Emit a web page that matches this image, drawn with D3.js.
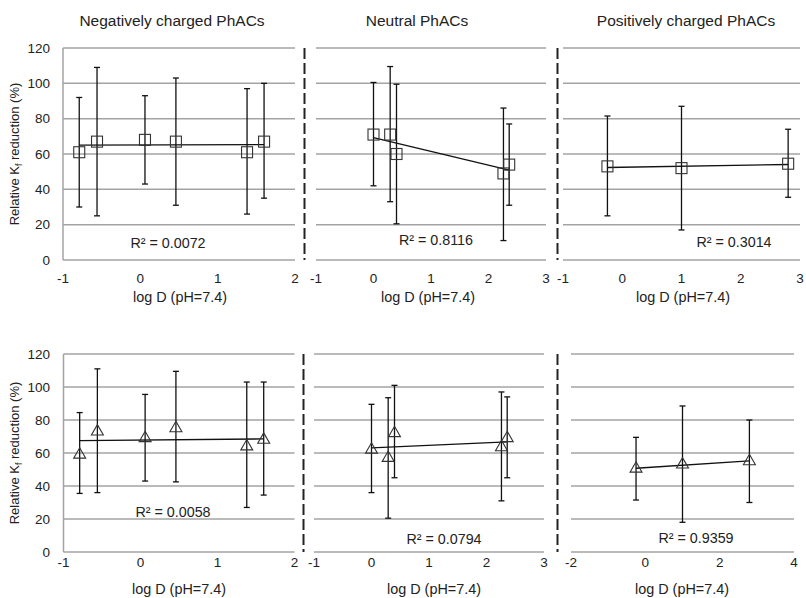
<!DOCTYPE html>
<html>
<head>
<meta charset="utf-8">
<script src="https://cdn.jsdelivr.net/npm/d3@7"></script>
<style>
  html, body { margin: 0; padding: 0; background: #fff; }
  svg { display: block; font-family: "Liberation Sans", Arial, sans-serif; }
</style>
</head>
<body>
<svg id="chart" width="806" height="598"></svg>
<script>
// ---- data ----
const panelTitles = ["Negatively charged PhACs", "Neutral PhACs", "Positively charged PhACs"];
const yTicks = [0, 20, 40, 60, 80, 100, 120];
const xTicksNeg = [-1, 0, 1, 2];
const xTicksNeu = [-1, 0, 1, 2, 3];
const xTicksPosTop = [-1, 0, 1, 2, 3];
const xTicksPosBot = [-2, 0, 2, 4];

const negLogD = [-0.79, -0.56, 0.06, 0.46, 1.38, 1.60];
const neuLogD = [0.0, 0.29, 0.40, 2.26, 2.36];
const posLogD = [-0.25, 1.0, 2.8];

// top row (squares)
const negTopMean = [61, 67, 68, 67, 61, 67];
const negTopHigh = [92, 109, 93, 103, 97, 100];
const negTopLow  = [30, 25, 43, 31, 26, 35];
const neuTopMean = [71, 71, 60, 49, 54];
const neuTopHigh = [100.5, 109.5, 99.5, 86, 77];
const neuTopLow  = [42, 33, 20.5, 11, 31];
const posTopMean = [53, 52, 54.5];
const posTopHigh = [81.5, 87, 74];
const posTopLow  = [25, 17, 35.5];

// bottom row (triangles)
const negBotMean = [59, 73, 69, 75, 64, 68];
const negBotHigh = [84.5, 111, 95.5, 109.5, 103, 103];
const negBotLow  = [35.5, 36, 43, 42.5, 27, 34.5];
const neuBotMean = [62, 57, 72, 63.5, 69];
const neuBotHigh = [89.5, 93.5, 101, 97, 94];
const neuBotLow  = [36, 20.5, 45, 31, 45];
const posBotMean = [50.5, 53, 55];
const posBotHigh = [69.5, 88.5, 80];
const posBotLow  = [31.5, 18, 30];

const r2Top = ["0.0072", "0.8116", "0.3014"];
const r2Bot = ["0.0058", "0.0794", "0.9359"];

// ---- layout ----
const rows = [
  { y0: 260, y1: 48, titleY: 21, xTitleY: 297, tickY: 278, marker: "square",
    r2: r2Top,
    r2Pos: [[168, 243], [436, 240], [734, 242]],
    sepX: [304.5, 557.5],
    panels: [
      { x: negLogD, m: negTopMean, hi: negTopHigh, lo: negTopLow, dom: [-1, 2], rng: [63, 295], ticks: xTicksNeg, axis: true, xTitleX: 180 },
      { x: neuLogD, m: neuTopMean, hi: neuTopHigh, lo: neuTopLow, dom: [-1, 3], rng: [316, 546], ticks: xTicksNeu, axis: false, xTitleX: 428 },
      { x: posLogD, m: posTopMean, hi: posTopHigh, lo: posTopLow, dom: [-1, 3], rng: [563, 800], ticks: xTicksPosTop, axis: false, xTitleX: 683 }
    ] },
  { y0: 552, y1: 354, titleY: null, xTitleY: 589, tickY: 562, marker: "triangle",
    r2: r2Bot,
    r2Pos: [[173, 512], [444, 539], [696, 538]],
    sepX: [303.5, 557.5],
    panels: [
      { x: negLogD, m: negBotMean, hi: negBotHigh, lo: negBotLow, dom: [-1, 2], rng: [63.5, 294.5], ticks: xTicksNeg, axis: true, xTitleX: 179 },
      { x: neuLogD, m: neuBotMean, hi: neuBotHigh, lo: neuBotLow, dom: [-1, 3], rng: [314, 544], ticks: xTicksNeu, axis: false, xTitleX: 434 },
      { x: posLogD, m: posBotMean, hi: posBotHigh, lo: posBotLow, dom: [-2, 4], rng: [571, 794], ticks: xTicksPosBot, axis: false, xTitleX: 682 }
    ] }
];

const titleX = [172, 417, 686];
const gridColor = "#a3a3a3";
const svg = d3.select("#chart");

function fmtTick(d) { return d < 0 ? "-" + Math.abs(d) : String(d); }

// least-squares fit used for the trendline
function linFit(xs, ys) {
  const mx = d3.mean(xs), my = d3.mean(ys);
  let sxy = 0, sxx = 0;
  xs.forEach((x, i) => { sxy += (x - mx) * (ys[i] - my); sxx += (x - mx) * (x - mx); });
  const b = sxy / sxx;
  return x => my + b * (x - mx);
}

rows.forEach((row, ri) => {
  const y = d3.scaleLinear().domain([0, 120]).range([row.y0, row.y1]);

  // y tick labels (left of first panel)
  svg.append("g").selectAll("text").data(yTicks).join("text")
    .attr("x", 50).attr("y", d => y(d)).attr("dy", "0.35em")
    .attr("text-anchor", "end").attr("font-size", 13.5).attr("fill", "#222")
    .text(d => d);

  // y axis title
  const yt = svg.append("text")
    .attr("transform", `translate(19,${(row.y0 + row.y1) / 2}) rotate(-90)`)
    .attr("text-anchor", "middle").attr("font-size", 13).attr("fill", "#222");
  yt.append("tspan").text("Relative K");
  yt.append("tspan").attr("font-size", 9).attr("dy", 3).text("f");
  yt.append("tspan").attr("dy", -3).text(" reduction (%)");

  row.panels.forEach((p, pi) => {
    const x = d3.scaleLinear().domain(p.dom).range(p.rng);
    const g = svg.append("g");

    // horizontal gridlines
    g.selectAll("line.grid").data(yTicks).join("line")
      .attr("class", "grid")
      .attr("x1", p.rng[0]).attr("x2", p.rng[1])
      .attr("y1", d => y(d)).attr("y2", d => y(d))
      .attr("stroke", gridColor).attr("stroke-width", 1.5);

    if (p.axis) {
      g.append("line")
        .attr("x1", p.rng[0]).attr("x2", p.rng[0])
        .attr("y1", y(0)).attr("y2", y(120))
        .attr("stroke", gridColor).attr("stroke-width", 1.5);
    }

    // x tick labels
    g.selectAll("text.xt").data(p.ticks).join("text")
      .attr("class", "xt")
      .attr("x", d => x(d)).attr("y", row.tickY).attr("dy", "0.35em")
      .attr("text-anchor", "middle").attr("font-size", 13.5).attr("fill", "#222")
      .text(fmtTick);

    // x axis title
    g.append("text")
      .attr("x", p.xTitleX).attr("y", row.xTitleY).attr("dy", "0.35em")
      .attr("text-anchor", "middle").attr("font-size", 14.4).attr("fill", "#222")
      .text("log D (pH=7.4)");

    const pts = p.x.map((xv, i) => ({ x: xv, m: p.m[i], hi: p.hi[i], lo: p.lo[i] }));

    // error bars
    const eb = g.selectAll("g.eb").data(pts).join("g").attr("class", "eb")
      .attr("stroke", "#111").attr("stroke-width", 1.3);
    eb.append("line")
      .attr("x1", d => x(d.x)).attr("x2", d => x(d.x))
      .attr("y1", d => y(d.hi)).attr("y2", d => y(d.lo));
    eb.append("line")
      .attr("x1", d => x(d.x) - 3).attr("x2", d => x(d.x) + 3)
      .attr("y1", d => y(d.hi)).attr("y2", d => y(d.hi));
    eb.append("line")
      .attr("x1", d => x(d.x) - 3).attr("x2", d => x(d.x) + 3)
      .attr("y1", d => y(d.lo)).attr("y2", d => y(d.lo));

    // linear trendline
    const fit = linFit(p.x, p.m);
    const [xmin, xmax] = d3.extent(p.x);
    g.append("line")
      .attr("x1", x(xmin)).attr("y1", y(fit(xmin)))
      .attr("x2", x(xmax)).attr("y2", y(fit(xmax)))
      .attr("stroke", "#111").attr("stroke-width", 1.3);

    // markers
    if (row.marker === "square") {
      g.selectAll("rect.mk").data(pts).join("rect").attr("class", "mk")
        .attr("x", d => x(d.x) - 5.5).attr("y", d => y(d.m) - 5.5)
        .attr("width", 11).attr("height", 11)
        .attr("fill", "none").attr("stroke", "#333").attr("stroke-width", 1.1);
    } else {
      const tri = d3.symbol().type(d3.symbolTriangle).size(62);
      g.selectAll("path.mk").data(pts).join("path").attr("class", "mk")
        .attr("d", tri)
        .attr("transform", d => `translate(${x(d.x)},${y(d.m)})`)
        .attr("fill", "none").attr("stroke", "#333").attr("stroke-width", 1.1);
    }

    // R² annotation
    g.append("text")
      .attr("x", row.r2Pos[pi][0]).attr("y", row.r2Pos[pi][1]).attr("dy", "0.35em")
      .attr("text-anchor", "middle").attr("font-size", 14.3).attr("fill", "#222")
      .text("R² = " + row.r2[pi]);

    if (row.titleY !== null) {
      svg.append("text")
        .attr("x", titleX[pi]).attr("y", row.titleY).attr("dy", "0.35em")
        .attr("text-anchor", "middle").attr("font-size", 15.5).attr("fill", "#222")
        .text(panelTitles[pi]);
    }
  });

  // dashed separators between panels
  row.sepX.forEach(sx => {
    svg.append("line")
      .attr("x1", sx).attr("x2", sx)
      .attr("y1", row.y1).attr("y2", row.y0)
      .attr("stroke", "#222").attr("stroke-width", 2)
      .attr("stroke-dasharray", "11,4");
  });
});
</script>
</body>
</html>
